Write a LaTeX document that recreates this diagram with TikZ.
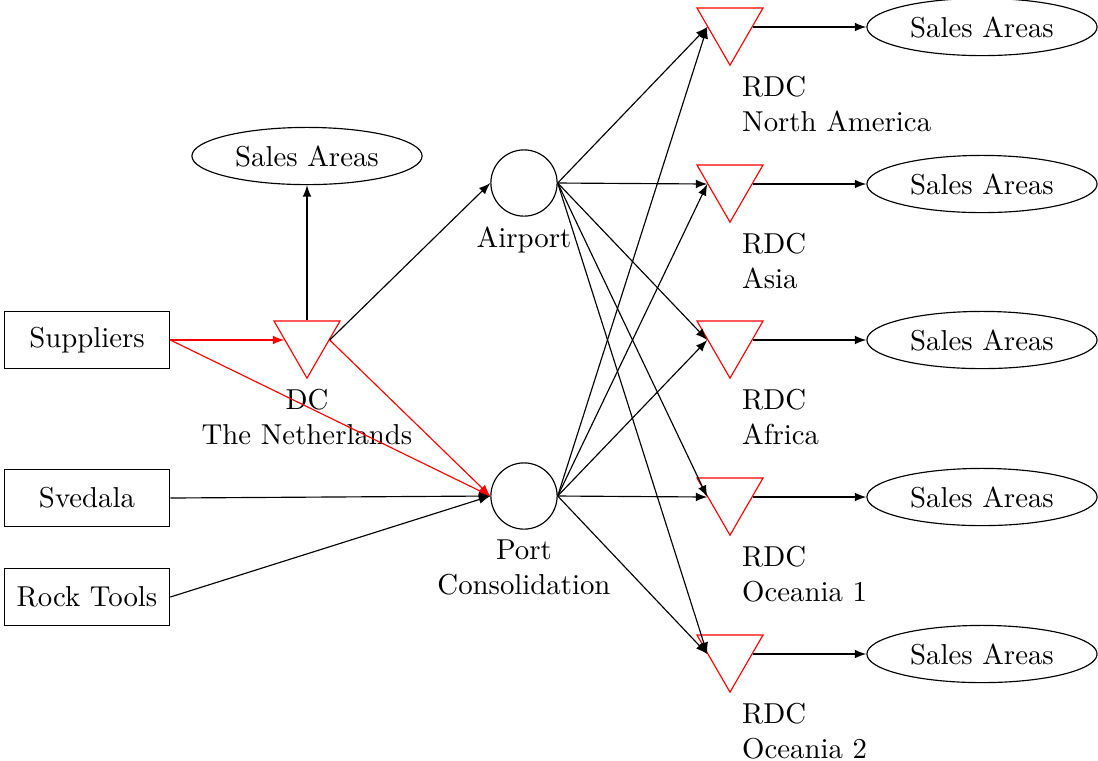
\documentclass[tikz,border=0pt]{standalone}
\usetikzlibrary{shapes.geometric}
\begin{document}
\begin{tikzpicture}[x=0.3472pt, y=-0.3472pt, >=latex]
\tikzset{
  src/.style={draw, minimum width=57.5pt, minimum height=19.6pt},
  depot/.style={draw=red, regular polygon, regular polygon sides=3,
    shape border rotate=180, minimum size=26.5pt, inner sep=0pt},
  hub/.style={draw, circle, minimum size=23pt, inner sep=0pt},
  market/.style={draw, ellipse},
  flow/.style={->},
  redflow/.style={->, red},
  rdclabel/.style={label={[align=left, anchor=north west, xshift=0.7pt]south:#1}}
}
\useasboundingbox (0,0) rectangle (1098,760);

% suppliers
\node[src] (sup)  at (87,340) {Suppliers};
\node[src] (sve)  at (87,498) {Svedala};
\node[src] (rock) at (87,597) {Rock Tools};

% central distribution centre
\node[depot, label={[align=center]below:DC\\The Netherlands}] (dc) at (307,340) {};
\node[market] (sadc) at (307,156) {Sales Areas};

% transport hubs
\node[hub, label=below:Airport] (air) at (524,183) {};
\node[hub, label={[align=center]below:Port\\Consolidation}] (port) at (524,496) {};

% regional distribution centres and their sales areas
\node[depot, rdclabel={RDC\\North America}] (na)  at (730,27)  {};
\node[depot, rdclabel={RDC\\Asia}]          (as)  at (730,184) {};
\node[depot, rdclabel={RDC\\Africa}]        (af)  at (730,340) {};
\node[depot, rdclabel={RDC\\Oceania 1}]     (oc1) at (730,497) {};
\node[depot, rdclabel={RDC\\Oceania 2}]     (oc2) at (730,654) {};

\node[market] (sana)  at (982,27)  {Sales Areas};
\node[market] (saas)  at (982,184) {Sales Areas};
\node[market] (saaf)  at (982,340) {Sales Areas};
\node[market] (saoc1) at (982,497) {Sales Areas};
\node[market] (saoc2) at (982,654) {Sales Areas};

% inbound flows
\draw[redflow] (sup) -- (dc);
\draw[redflow] (sup.east) -- (port.west);
\draw[redflow] (dc.east) -- (port.west);
\draw[flow] (dc.east) -- (air.west);
\draw[flow] (dc) -- (sadc);
\draw[flow] (sve.east) -- (port.west);
\draw[flow] (rock.east) -- (port.west);

% outbound flows
\foreach \r in {na,as,af,oc1,oc2}{
  \draw[flow] (air.east) -- (\r.west);
  \draw[flow] (port.east) -- (\r.west);
  \draw[flow] (\r.east) -- (sa\r);
}
\end{tikzpicture}
\end{document}
